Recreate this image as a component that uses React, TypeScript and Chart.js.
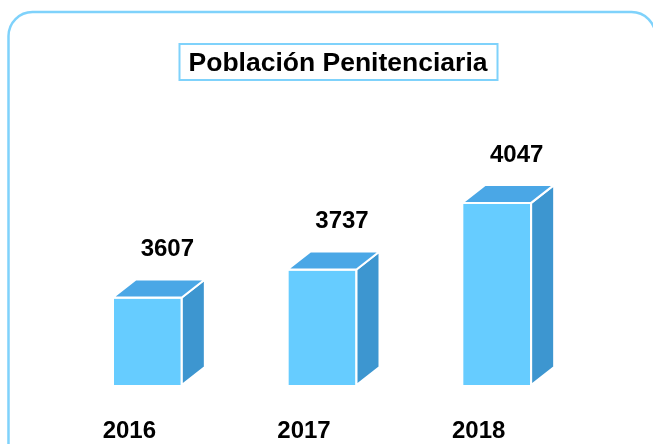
import React, { useEffect, useRef } from "react";
import { Chart, registerables } from "chart.js";

Chart.register(...registerables);

const TITLE = "Población Penitenciaria";
const YEARS = ["2016", "2017", "2018"];
const POPULATION = [3607, 3737, 4047];
const Y_MIN = 3200;
const Y_MAX = 4200;

const FONT = "'Liberation Sans', Arial, sans-serif";
const FRONT = "#66ccff";
const TOP = "#4aa7e6";
const SIDE = "#3d96d0";
const FRAME = "#7fd2fb";

const decorPlugin = {
  id: "decor",
  beforeDraw(chart: any) {
    const ctx = chart.ctx;
    ctx.save();
    ctx.strokeStyle = FRAME;
    ctx.lineWidth = 2.5;
    ctx.beginPath();
    (ctx as any).roundRect(8.5, 12, 647, 460, 24);
    ctx.stroke();
    ctx.strokeStyle = FRAME;
    ctx.lineWidth = 2;
    ctx.strokeRect(179.5, 44, 318, 36);
    ctx.fillStyle = "#000";
    ctx.font = `bold 26.5px ${FONT}`;
    ctx.textAlign = "center";
    ctx.textBaseline = "alphabetic";
    ctx.fillText(TITLE, 338, 71);
    ctx.restore();
  },
  afterDatasetsDraw(chart: any) {
    const ctx = chart.ctx;
    const meta = chart.getDatasetMeta(0);
    const dx = 23;
    const dy = 18;
    ctx.save();
    meta.data.forEach((bar: any, i: number) => {
      const p = bar.getProps(["x", "y", "base", "width"], true);
      const left = p.x - p.width / 2;
      const right = p.x + p.width / 2;
      const top = p.y;
      const bottom = Math.min(p.base, chart.chartArea.bottom);
      ctx.lineWidth = 2;
      ctx.strokeStyle = "#ffffff";
      ctx.lineJoin = "round";
      ctx.fillStyle = SIDE;
      ctx.beginPath();
      ctx.moveTo(right, top);
      ctx.lineTo(right + dx, top - dy);
      ctx.lineTo(right + dx, bottom - dy);
      ctx.lineTo(right, bottom);
      ctx.closePath();
      ctx.fill();
      ctx.stroke();
      ctx.fillStyle = TOP;
      ctx.beginPath();
      ctx.moveTo(left, top);
      ctx.lineTo(left + dx, top - dy);
      ctx.lineTo(right + dx, top - dy);
      ctx.lineTo(right, top);
      ctx.closePath();
      ctx.fill();
      ctx.stroke();
      ctx.fillStyle = "#000";
      ctx.font = `bold 24px ${FONT}`;
      ctx.textAlign = "center";
      ctx.textBaseline = "middle";
      ctx.fillText(String(POPULATION[i]), p.x + 20, top - 48);
    });
    ctx.restore();
  },
};

export default function App() {
  const ref = useRef<HTMLCanvasElement>(null);
  useEffect(() => {
    if (!ref.current) return;
    const chart = new Chart(ref.current, {
      type: "bar",
      data: {
        labels: YEARS,
        datasets: [
          {
            data: POPULATION,
            base: Y_MIN,
            backgroundColor: FRONT,
            borderColor: "#ffffff",
            borderWidth: 1.5,
            barThickness: 69,
          } as any,
        ],
      },
      options: {
        animation: false,
        responsive: false,
        maintainAspectRatio: false,
        layout: { padding: { left: 60, right: 69, top: 170, bottom: 0 } },
        plugins: {
          legend: { display: false },
          tooltip: { enabled: false },
          title: { display: false },
        },
        scales: {
          x: {
            grid: { display: false, drawTicks: false },
            border: { display: false },
            ticks: {
              color: "#000",
              font: { family: FONT, size: 24, weight: "bold" },
              labelOffset: -18,
              padding: 32,
            },
            afterFit: (scale: any) => {
              scale.height = 59;
            },
          },
          y: { display: false, min: Y_MIN, max: Y_MAX },
        },
      },
      plugins: [decorPlugin],
    });
    return () => chart.destroy();
  }, []);
  return (
    <div style={{ position: "fixed", left: 0, top: 0, width: 653, height: 444, background: "#fff" }}>
      <canvas ref={ref} width={653} height={444} style={{ width: 653, height: 444 }} />
    </div>
  );
}
